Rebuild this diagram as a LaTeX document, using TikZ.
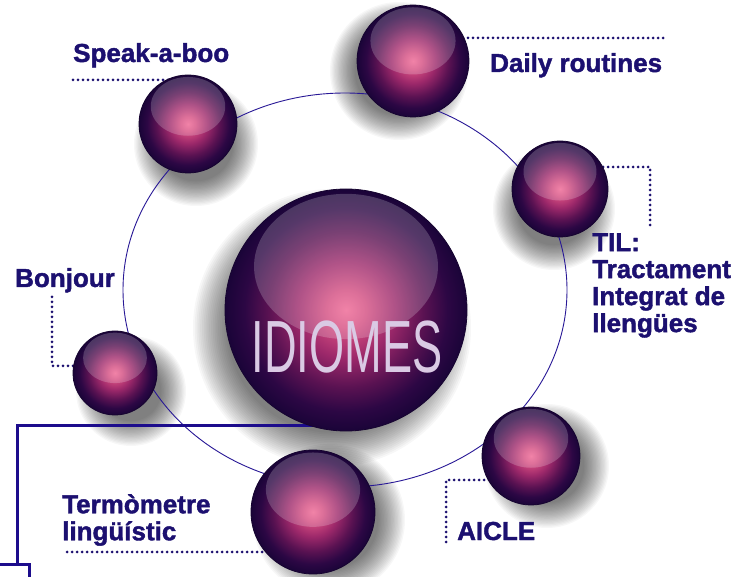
\documentclass[tikz,border=0pt]{standalone}
\usepackage{fontspec}
\setmainfont{Liberation Sans}
\newfontfamily\lblfont[FakeBold=1.5]{Liberation Sans Bold}
\usetikzlibrary{calc}
\definecolor{lab}{RGB}{28,16,112}
\definecolor{lineblue}{RGB}{28,12,140}
\definecolor{orbitc}{RGB}{40,24,150}
\definecolor{sphline}{RGB}{22,4,48}
\definecolor{idtext}{RGB}{218,202,228}
\definecolor{spk}{RGB}{238,100,146}
\definecolor{spa}{RGB}{212,76,128}
\definecolor{spb}{RGB}{156,40,106}
\definecolor{spc}{RGB}{90,18,82}
\definecolor{spd}{RGB}{44,7,68}
\definecolor{spe}{RGB}{26,4,56}
\pgfdeclareradialshading{sph}{\pgfpointorigin}{color(0bp)=(spk); color(4bp)=(spa); color(10bp)=(spb); color(16bp)=(spc); color(21bp)=(spd); color(25bp)=(spe); color(50bp)=(spe)}
\pgfdeclarelayer{shadow}
\pgfdeclarelayer{lines}
\pgfsetlayers{shadow,lines,main}
\tikzset{
  sphere/.style={circle, draw=sphline, line width=0.8pt, shade, shading=sph, inner sep=0pt, minimum size=#1},
  hilite/.style={fill=white, fill opacity=0.2},
  dotline/.style={lab, line width=3pt, line cap=round, dash pattern=on 0pt off 5pt},
  frame/.style={lineblue, line width=3pt},
  orbit/.style={orbitc, line width=0.9pt},
  lbl/.style={text=lab, font=\lblfont\fontsize{26}{27}\selectfont, inner sep=0pt},
}
\newcommand\putsphere[4]{%
  \node[sphere={(2*#4)*1pt}] (#1) at (#2,#3) {};
  \fill[hilite] ($(#1)+(0,{-0.36*#4})$) ellipse ({0.76*#4} and {0.6*#4});
}
\newcommand\putshadow[6]{%
  \foreach \k in {0,...,19}{\fill[black,opacity=0.03] ({#1+#4},{#2+#5}) circle ({#3+#6*(1-\k/10)});}
}
\begin{document}
\begin{tikzpicture}[x=1pt,y=-1pt]
\useasboundingbox (0,0) rectangle (748,577);
\begin{pgfonlayer}{shadow}
  \fill[white] (0,0) rectangle (748,577);
  \putshadow{346}{310}{121}{-14}{18}{18}
  \putshadow{188}{124}{49}{8}{20}{13}
  \putshadow{413}{61}{56}{-14}{10}{13}
  \putshadow{560}{189}{48}{-6}{20}{13}
  \putshadow{115}{373}{42}{16}{18}{13}
  \putshadow{531}{456}{49}{16}{10}{13}
  \putshadow{313}{512}{62}{16}{8}{14}
\end{pgfonlayer}

% spheres
\putsphere{idiomes}{346}{310}{121}
\putsphere{speak}{188}{124}{49}
\putsphere{daily}{413}{61}{56}
\putsphere{til}{560}{189}{48}
\putsphere{bonjour}{115}{373}{42}
\putsphere{aicle}{531}{456}{49}
\putsphere{term}{313}{512}{62}

\node[text=idtext, font=\fontsize{74}{80}\selectfont, inner sep=0pt, anchor=base] (idt) at (347,373) {\scalebox{0.61}[1]{IDIOMES}};

% labels
\node[lbl, anchor=base west] (lspeak) at (73,62) {Speak-a-boo};
\node[lbl, anchor=base west] (ldaily) at (490,72) {Daily routines};
\node[lbl, anchor=north west, align=left] (ltil) at (592,233) {TIL:\\Tractament\\Integrat de\\llengües};
\node[lbl, anchor=base west] (lbonjour) at (15,287) {Bonjour};
\node[lbl, anchor=base west] (laicle) at (457,540) {AICLE};
\node[lbl, anchor=north west, align=left] (lterm) at (62,494) {Termòmetre\\lingüístic};

% coordinates for connectors
\coordinate (dspeak) at (73,80);
\coordinate (ddaily) at (663,38);
\coordinate (dtil) at (650,167);
\coordinate (dtilend) at (650,225);
\coordinate (dbon) at (52,297);
\coordinate (dbon2) at (52,366);
\coordinate (dai) at (446,542);
\coordinate (dai2) at (446,480);
\coordinate (dterm) at (67,552);
\coordinate (fa) at (17,426);
\coordinate (fb) at (17,565);
\coordinate (bx0) at (-3,565);
\coordinate (bx1) at (29,565);
\coordinate (bx2) at (29,580);

\begin{pgfonlayer}{lines}
  \draw[orbit] (345,290) ellipse (222 and 197);
  \draw[dotline] (dspeak) -- (dspeak -| speak);
  \draw[dotline] (ddaily) -- (ddaily -| daily);
  \draw[dotline] (dtilend) -- (dtil) -- (dtil -| til);
  \draw[dotline] (dbon) -- (dbon2) -- (dbon2 -| bonjour);
  \draw[dotline] (dai) -- (dai2) -- (dai2 -| aicle);
  \draw[dotline] (dterm) -- (dterm -| term);
  \draw[frame] (idiomes.center |- fa) -- (fa) -- (fb);
  \draw[frame] (bx0) -- (bx1) -- (bx2);
\end{pgfonlayer}
\end{tikzpicture}
\end{document}
